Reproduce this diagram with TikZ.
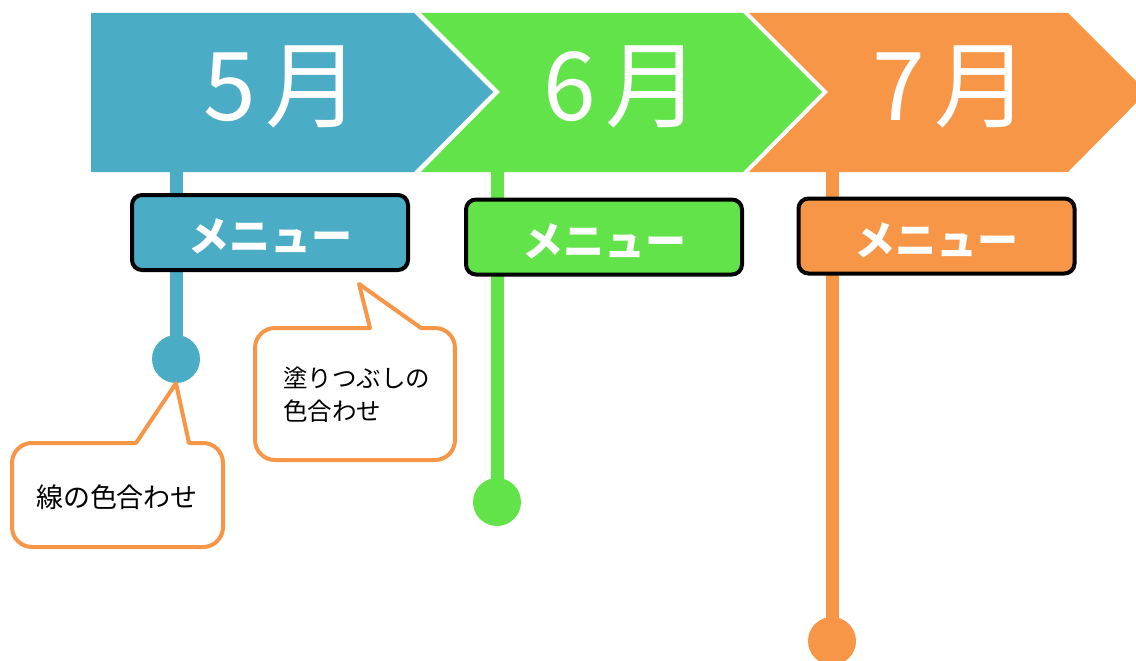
\documentclass[tikz,border=0pt]{standalone}
\usepackage{fontspec}
\newfontfamily\jp{Noto Sans CJK JP}
\definecolor{cblue}{HTML}{4BACC6}
\definecolor{cgreen}{HTML}{63E34A}
\definecolor{corange}{HTML}{F79646}
\newcommand{\mgap}{\hspace{9pt}}
\newcommand{\menutext}{\raisebox{-4pt}[\height][\depth]{メニュー}}
\begin{document}
\begin{tikzpicture}[x=1pt,y=-1pt,
  month/.style={text=white,font=\jp\fontsize{95}{95}\selectfont,inner sep=0pt},
  menubox/.style={draw=black,line width=4pt,rounded corners=10pt,minimum width=276pt,minimum height=75pt,inner sep=0pt,text=white,font=\jp\bfseries\fontsize{41}{41}\selectfont},
  stem/.style={line width=13pt},
  dot/.style={circle,minimum size=48pt,inner sep=0pt},
  callout/.style={draw=corange,line width=4pt,fill=white,line join=round},
  ctext/.style={font=\jp\fontsize{24.5}{33}\selectfont,inner sep=0pt,align=left}]
\useasboundingbox (0,0) rectangle (1136,661);
\begin{scope}
\clip (0,0) rectangle (1136,661);
% stems and dots
\coordinate (s5) at (176,165);
\coordinate (s6) at (497,165);
\coordinate (s7) at (832,165);
\node[dot,fill=cblue] (d5) at (176,359) {};
\node[dot,fill=cgreen] (d6) at (497,502) {};
\node[dot,fill=corange] (d7) at (832,641) {};
\draw[stem,cblue] (s5) -- (d5.center);
\draw[stem,cgreen] (s6) -- (d6.center);
\draw[stem,corange] (s7) -- (d7.center);
% chevrons
\fill[cblue] (91,13) -- (414,13) -- (493,92) -- (414,172) -- (91,172) -- cycle;
\fill[cgreen] (421,13) -- (743,13) -- (822,92) -- (743,172) -- (421,172) -- (500,92) -- cycle;
\fill[corange] (749,13) -- (1068,13) -- (1147,92) -- (1068,172) -- (749,172) -- (828,92) -- cycle;
\node[month] (m5) at (282,87) {5\mgap 月};
\node[month] (m6) at (622,87) {6\mgap 月};
\node[month] (m7) at (951,87) {7\mgap 月};
% menu boxes
\node[menubox,fill=cblue] (b5) at (270,232.5) {\menutext};
\node[menubox,fill=cgreen] (b6) at (604,237) {\menutext};
\node[menubox,fill=corange] (b7) at (936.5,236) {\menutext};
% callout 1
\draw[callout] (200,443) [rounded corners=20pt] -- (223,443) -- (223,547) -- (12,547) -- (12,443) -- (60,443) [sharp corners] -- (136,443) -- (d5.south) -- (189,443) -- cycle;
\node[ctext,font=\jp\fontsize{27}{33}\selectfont] (c1) at (117,497) {線の色合わせ};
% callout 2
\coordinate (t2) at (359,284);
\draw[callout] (430,328) [rounded corners=20pt] -- (455,328) -- (455,460) -- (255,460) -- (255,328) -- (300,328) [sharp corners] -- (370,328) -- (t2) -- (421,328) -- cycle;
\node[ctext,anchor=west] (c2) at (283,395) {塗りつぶしの\\色合わせ};
\end{scope}
\end{tikzpicture}
\end{document}
